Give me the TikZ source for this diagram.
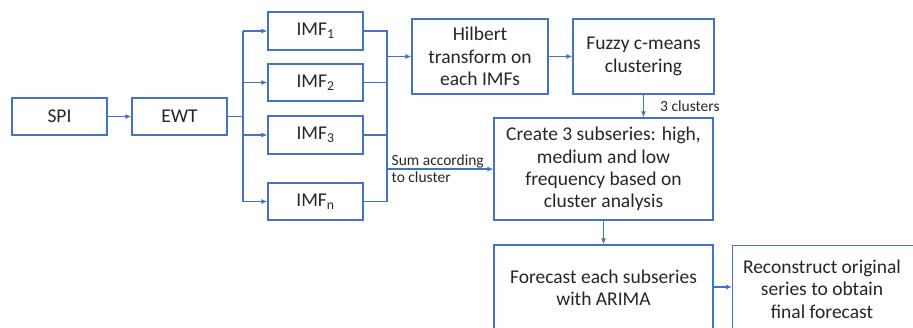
\documentclass[tikz,border=0pt]{standalone}
\usepackage{fontspec}
\setmainfont{Carlito}
\usetikzlibrary{arrows.meta,positioning}
\definecolor{flowblue}{HTML}{4472C4}
\definecolor{ink}{HTML}{262626}
\tikzset{
  box/.style={draw=flowblue, line width=1.3pt, fill=white, text=ink, align=center,
    inner sep=0pt, font=\fontsize{19.5}{22.4}\selectfont},
  wire/.style={draw=flowblue, line width=1.1pt},
  arr/.style={wire, -{Latex[length=6pt,width=5pt]}},
  note/.style={text=ink, inner sep=0pt, align=left, font=\fontsize{15.5}{17}\selectfont}
}
\begin{document}
\begin{tikzpicture}[x=1pt, y=-1pt]
\useasboundingbox (0,0) rectangle (913,327);
\clip (0,0) rectangle (913,327);
% input and decomposition
\node[box, minimum width=95pt, minimum height=37pt] (spi) at (59.5,116.5) {SPI};
\node[box, minimum width=95pt, minimum height=37pt] (ewt) at (179.5,116.5) {EWT};
% intrinsic mode functions
\node[box, minimum width=95pt, minimum height=38pt] (imf1) at (315.5,31) {IMF\textsubscript{1}};
\node[box, minimum width=95pt, minimum height=37pt] (imf2) at (315.5,82.5) {IMF\textsubscript{2}};
\node[box, minimum width=95pt, minimum height=38pt] (imf3) at (315.5,135) {IMF\textsubscript{3}};
\node[box, minimum width=95pt, minimum height=37pt] (imfn) at (315.5,201.5) {IMF\textsubscript{n}};
% analysis stages
\node[box, minimum width=136pt, minimum height=75pt] (hil) at (480,56.5) {Hilbert\\transform on\\each IMFs};
\node[box, minimum width=141pt, minimum height=75pt] (fcm) at (643.5,56.5) {Fuzzy c-means\\clustering};
\node[box, minimum width=219pt, minimum height=102pt] (sub) at (603.5,169) {Create 3 subseries: high,\\medium and low\\frequency based on\\cluster analysis};
\node[box, minimum width=219pt, minimum height=86pt] (fore) at (603.5,288) {Forecast each subseries\\with ARIMA};
\node[box, minimum width=210pt, minimum height=86pt, anchor=north west] (rec) at (732,245) {};
\node[box, draw=none, fill=none] (rectxt) at (822,289) {Reconstruct original\\series to obtain\\final forecast};
% branching after EWT
\coordinate (split) at (243,116.5);
\draw[arr] (spi) -- (ewt);
\draw[wire] (ewt.east) -- (split);
\draw[wire] (split |- imf1.west) -- (split |- imfn.west);
\foreach \m in {imf1,imf2,imf3,imfn}
  \draw[arr] (split |- \m.west) -- (\m.west);
% merging of the modes
\coordinate (mtop) at (387,31);
\coordinate (mbot) at (387,201.5);
\draw[wire] (imf1.east) -| (mbot) -- (imfn.east);
\draw[wire] (imf2.east) -- (imf2.east -| mtop);
\draw[wire] (imf3.east) -- (imf3.east -| mtop);
\draw[arr] (mtop |- hil.west) -- (hil.west);
\draw[arr] (mtop |- sub.west) -- (sub.west);
\node[note, anchor=west] (sumlbl) at (391.5,168.5) {Sum according\\to cluster};
% clustering and forecasting chain
\draw[arr] (hil) -- (fcm);
\draw[arr] (fcm.south) -- (fcm.south |- sub.north);
\node[note, anchor=west] (clulbl) at (660,106) {3 clusters};
\draw[arr] (sub) -- (fore);
\draw[arr] (fore.east |- 0,287) -- (rec.west |- 0,287);
\end{tikzpicture}
\end{document}
